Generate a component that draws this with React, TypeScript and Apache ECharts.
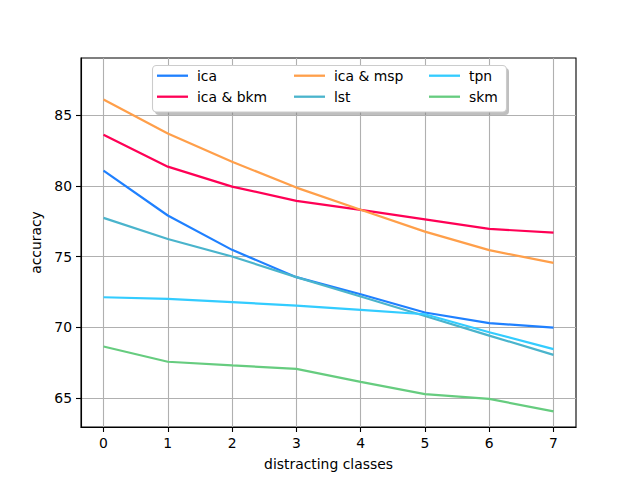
import React, { useEffect, useRef } from "react";
import * as echarts from "echarts";

const classes = [0, 1, 2, 3, 4, 5, 6, 7];
const seriesNames = ["ica", "ica & bkm", "ica & msp", "lst", "tpn", "skm"];
const ica = [81.07, 77.9, 75.47, 73.54, 72.33, 71.04, 70.29, 69.98];
const icaBkm = [83.6, 81.35, 79.94, 78.93, 78.3, 77.63, 76.95, 76.69];
const icaMsp = [86.1, 83.7, 81.7, 79.87, 78.3, 76.76, 75.45, 74.55];
const lst = [77.73, 76.24, 75.0, 73.54, 72.17, 70.8, 69.41, 68.05];
const tpn = [72.12, 72.0, 71.77, 71.53, 71.23, 70.92, 69.65, 68.45];
const skm = [68.64, 67.56, 67.3, 67.06, 66.14, 65.27, 64.94, 64.05];
const xTicks = [0, 1, 2, 3, 4, 5, 6, 7];
const yTicks = [65, 70, 75, 80, 85];
const colors = ["#1f80ff", "#ff0055", "#ff9f4a", "#4ab4cc", "#33ccff", "#66cc7f"];

const FONT = "DejaVu Sans";

export default function App() {
  const ref = useRef<HTMLDivElement>(null);
  useEffect(() => {
    const chart = echarts.init(ref.current!, null, { renderer: "svg" });
    const allSeries = [ica, icaBkm, icaMsp, lst, tpn, skm];

    const legendX = [157, 294, 429];
    const legendY = [75.7, 96.7];
    const legendGraphics: any[] = [];
    seriesNames.forEach((name, i) => {
      const col = Math.floor(i / 2);
      const row = i % 2;
      const x = legendX[col];
      const y = legendY[row];
      legendGraphics.push({
        type: "line",
        z: 102,
        shape: { x1: x, y1: y, x2: x + 31, y2: y },
        style: { stroke: colors[i], lineWidth: 2.3 },
      });
      legendGraphics.push({
        type: "text",
        z: 102,
        x: x + 40,
        y: y,
        style: {
          text: name,
          fill: "#000",
          font: `13.9px "${FONT}"`,
          verticalAlign: "middle",
          align: "left",
        },
      });
    });

    const axisCommon = {
      axisLine: { show: true, onZero: false, lineStyle: { color: "#000", width: 1.1 } },
      splitLine: { show: true, lineStyle: { color: "#b0b0b0", width: 1.1 } },
    };

    chart.setOption({
      animation: false,
      backgroundColor: "#fff",
      textStyle: { fontFamily: FONT },
      grid: {
        left: 81,
        top: 58,
        right: 64,
        bottom: 53,
        show: true,
        borderColor: "#000",
        borderWidth: 1.1,
        backgroundColor: "transparent",
        containLabel: false,
      },
      xAxis: {
        type: "value",
        min: -0.35,
        max: 7.35,
        name: "distracting classes",
        nameLocation: "middle",
        nameGap: 30,
        nameTextStyle: { fontSize: 13.9, color: "#000", fontFamily: FONT },
        ...axisCommon,
        axisTick: {
          show: true,
          length: 5,
          inside: false,
          lineStyle: { color: "#000", width: 1.1 },
          customValues: xTicks,
        },
        axisLabel: {
          customValues: xTicks,
          fontSize: 13.9,
          color: "#000",
          margin: 9,
          fontFamily: FONT,
          formatter: (v: number) => String(v),
        },
      },
      yAxis: {
        type: "value",
        min: 62.95,
        max: 89.03,
        name: "accuracy",
        nameLocation: "middle",
        nameGap: 35,
        nameRotate: 90,
        nameTextStyle: { fontSize: 13.9, color: "#000", fontFamily: FONT },
        ...axisCommon,
        axisTick: {
          show: true,
          length: 5,
          inside: false,
          lineStyle: { color: "#000", width: 1.1 },
          customValues: yTicks,
        },
        axisLabel: {
          customValues: yTicks,
          fontSize: 13.9,
          color: "#000",
          margin: 9,
          fontFamily: FONT,
          formatter: (v: number) => String(v),
        },
      },
      series: seriesNames.map((name, i) => ({
        name,
        type: "line",
        data: classes.map((c, j) => [c, allSeries[i][j]]),
        showSymbol: false,
        symbol: "none",
        lineStyle: { color: colors[i], width: 2.2 },
        itemStyle: { color: colors[i] },
        z: 2 + i,
      })),
      graphic: [
        {
          type: "rect",
          z: 100,
          shape: { x: 155, y: 68, width: 354, height: 47, r: 4 },
          style: { fill: "rgba(128,128,128,0.5)" },
        },
        {
          type: "rect",
          z: 101,
          shape: { x: 152.5, y: 65.5, width: 354, height: 46.5, r: 4 },
          style: { fill: "#fff", stroke: "#cccccc", lineWidth: 1.1 },
        },
        ...legendGraphics,
      ],
    });
    return () => chart.dispose();
  }, []);
  return (
    <div
      ref={ref}
      style={{ position: "fixed", left: 0, top: 0, width: 640, height: 480 }}
    />
  );
}
